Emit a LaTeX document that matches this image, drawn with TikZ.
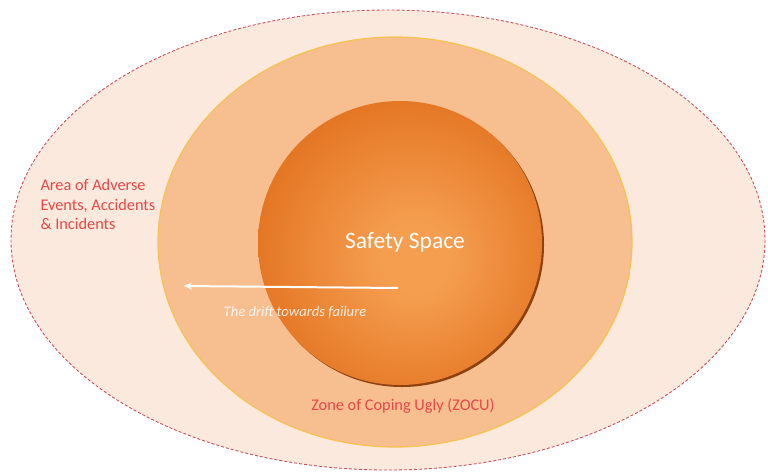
\documentclass[tikz,border=0pt]{standalone}
\usepackage{fontspec}
\setmainfont{Carlito}
\usetikzlibrary{arrows.meta}
\definecolor{outerfill}{RGB}{252,233,221}
\definecolor{outerline}{RGB}{200,80,95}
\definecolor{midfill}{RGB}{247,190,144}
\definecolor{midline}{RGB}{245,195,80}
\definecolor{corelight}{RGB}{245,158,80}
\definecolor{coredark}{RGB}{222,104,20}
\definecolor{coreshadow}{RGB}{140,65,15}
\definecolor{labelred}{RGB}{228,72,72}
\pgfdeclareradialshading{coreshade}{\pgfpoint{3bp}{-3bp}}{%
  color(0bp)=(corelight); color(6bp)=(corelight); color(35bp)=(coredark); color(70bp)=(coredark)}
\tikzset{
  redlabel/.style={text=labelred, font=\fontsize{16.3}{19.5}\selectfont, align=left},
  arrowline/.style={draw=white, line width=2pt, -{Stealth[length=8pt,width=7pt]}},
}
\begin{document}
\begin{tikzpicture}[x=1pt,y=-1pt]
\useasboundingbox (0,0) rectangle (768,475);
% outer area
\draw[fill=outerfill, draw=outerline, line width=0.9pt, dash pattern=on 3pt off 2pt]
  (388,240) ellipse [x radius=377, y radius=230];
% middle zone
\draw[fill=midfill, draw=midline, line width=1.2pt]
  (395,242) ellipse [x radius=237, y radius=205];
% core shadow
\fill[coreshadow] (402,245) circle [radius=142];
% core
\path[shading=coreshade] (400,243) circle [radius=142];
\node (core) at (400,243) {};
% texts
\node[text=white, font=\fontsize{23.5}{28}\selectfont] (safety) at (405,242) {Safety Space};
\node[redlabel, anchor=north west] (area) at (37,176) {Area of Adverse\\Events, Accidents\\\& Incidents};
\node[text=labelred, font=\fontsize{16.3}{19}\selectfont] (zocu) at (403,406) {Zone of Coping Ugly (ZOCU)};
% drift arrow
\coordinate (drifts) at (398,288);
\coordinate (drifte) at (184,286);
\draw[arrowline] (drifts) -- (drifte);
\node[text=white, opacity=0.85, font=\fontsize{14.6}{17}\selectfont\itshape] (drift) at (295,312) {The drift towards failure};
\end{tikzpicture}
\end{document}
